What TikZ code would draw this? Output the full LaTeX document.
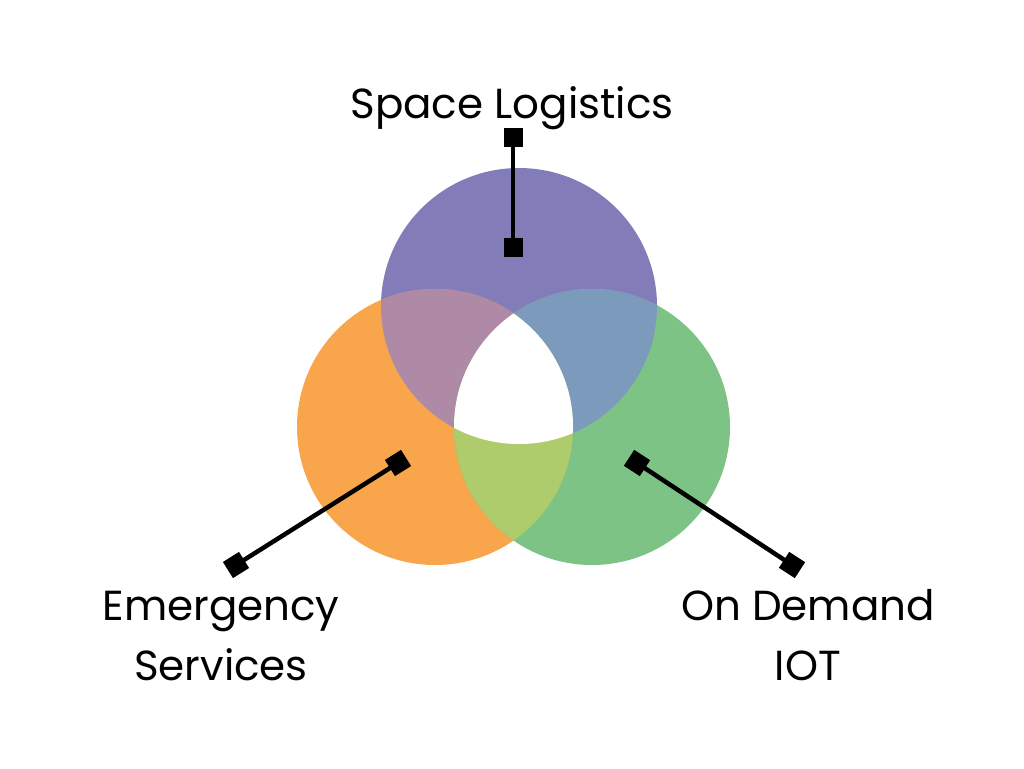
\documentclass[tikz,border=0pt]{standalone}
\usepackage{fontspec}
\setmainfont{Poppins}
\definecolor{cpur}{HTML}{827DB9}
\definecolor{cora}{HTML}{F8A54C}
\definecolor{cgre}{HTML}{7DC386}
\definecolor{cpo}{HTML}{AE8AA6}
\definecolor{cpg}{HTML}{7C9BBC}
\definecolor{cog}{HTML}{AECC6C}
\begin{document}
\begin{tikzpicture}[x=1pt,y=-1pt,
  sq/.style={fill=black,minimum size=19pt,inner sep=0pt,outer sep=0pt},
  link/.style={line width=4.5pt},
  lbl/.style={font=\fontsize{42}{60}\selectfont,align=center,inner sep=0pt,anchor=base}]
\useasboundingbox (0,0) rectangle (1024,768);
\def\P{(519,306) circle[radius=138]}
\def\O{(435,427) circle[radius=138]}
\def\G{(592,427) circle[radius=138]}
\fill[cpur] \P;
\fill[cora] \O;
\fill[cgre] \G;
\begin{scope}\clip \P; \fill[cpo] \O; \end{scope}
\begin{scope}\clip \P; \fill[cpg] \G; \end{scope}
\begin{scope}\clip \O; \fill[cog] \G; \end{scope}
\begin{scope}\clip \P; \clip \O; \fill[white] \G; \end{scope}
% connectors
\node[sq] (s1) at (513,137) {};
\node[sq] (s2) at (513,247) {};
\draw[link] (s1) -- (s2);
\node[sq,rotate=32] (e1) at (236,565) {};
\node[sq,rotate=32] (e2) at (398,463) {};
\draw[link] (e1.center) -- (e2.center);
\node[sq,rotate=-33] (d1) at (792,565) {};
\node[sq,rotate=-33] (d2) at (637,463) {};
\draw[link] (d1.center) -- (d2.center);
% labels
\node[lbl] (tS) at (512,118) {Space Logistics};
\node[lbl] (tE) at (221,680) {Emergency\\Services};
\node[lbl] (tD) at (808,680) {On Demand\\IOT};
\end{tikzpicture}
\end{document}
